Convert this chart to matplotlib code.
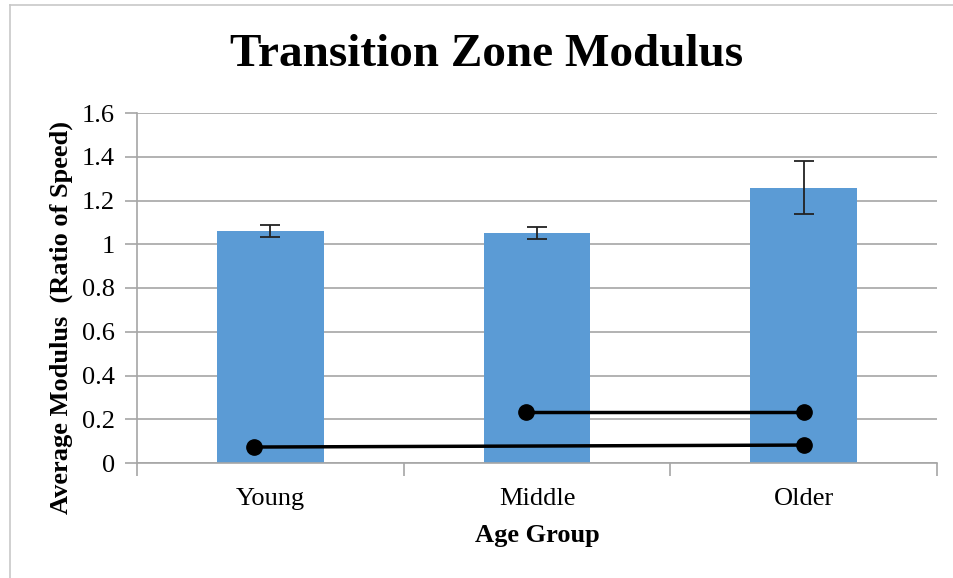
import matplotlib
matplotlib.use("Agg")
import matplotlib.pyplot as plt
from matplotlib.lines import Line2D

categories = ["Young", "Middle", "Older"]
means = [1.06, 1.052, 1.258]
errors = [0.026, 0.028, 0.122]
# significance brackets: (x_start, x_end, y_start, y_end)
sig_x1 = [-0.06, 0.96]
sig_x2 = [2.0, 2.0]
sig_y1 = [0.073, 0.232]
sig_y2 = [0.082, 0.232]
yticks = [0, 0.2, 0.4, 0.6, 0.8, 1, 1.2, 1.4, 1.6]
ytick_labels = ["0", "0.2", "0.4", "0.6", "0.8", "1", "1.2", "1.4", "1.6"]

plt.rcParams['font.family'] = ['Liberation Serif', 'DejaVu Serif']

fig = plt.figure(figsize=(9.54, 5.78), dpi=100)
W, H = 954, 578
ax = fig.add_axes([137 / W, 1 - 463 / H, 800 / W, 350 / H])

xs = list(range(len(categories)))
ax.bar(xs, means, width=0.4, color="#5B9BD5", zorder=2)
ax.errorbar(xs, means, yerr=errors, fmt="none", ecolor="#222222",
            elinewidth=1.3, capsize=7, capthick=1.3, zorder=3)

for x1, x2, y1, y2 in zip(sig_x1, sig_x2, sig_y1, sig_y2):
    ax.plot([x1, x2], [y1, y2], color="black", lw=2.5, zorder=4,
            marker="o", markersize=11, solid_capstyle="butt")

ax.set_xlim(-0.5, 2.5)
ax.set_ylim(0, 1.6)
ax.set_yticks(yticks)
ax.set_yticklabels(ytick_labels, fontsize=19)
ax.set_xticks(xs)
ax.set_xticklabels(categories, fontsize=19)
ax.set_xticks([-0.5, 0.5, 1.5, 2.5], minor=True)
ax.tick_params(axis="x", which="major", length=0, pad=18)
ax.tick_params(axis="x", which="minor", length=9, color="#a6a6a6", width=1.2)
ax.tick_params(axis="y", length=9, color="#a6a6a6", width=1.2, pad=7)

ax.grid(axis="y", color="#a6a6a6", lw=1.2, zorder=0)
ax.set_axisbelow(True)
for s in ["top", "right"]:
    ax.spines[s].set_visible(False)
for s in ["left", "bottom"]:
    ax.spines[s].set_color("#a6a6a6")
    ax.spines[s].set_linewidth(1.2)

ax.set_xlabel("Age Group", fontsize=19, fontweight="bold", labelpad=10)
ax.set_ylabel("Average Modulus  (Ratio of Speed)", fontsize=19,
              fontweight="bold", va="center")
ax.yaxis.set_label_coords((61 - 137) / 800, (463 - 318) / 350)
fig.text(487 / W, 1 - 55 / H, "Transition Zone Modulus", fontsize=34,
         fontweight="bold", ha="center", va="center")

# outer border (left and top)
fig.add_artist(Line2D([10 / W, 10 / W], [0, 1 - 5 / H], color="#c8c8c8", lw=1.2))
fig.add_artist(Line2D([10 / W, 1], [1 - 5 / H, 1 - 5 / H], color="#c8c8c8", lw=1.2))

fig.savefig("out.png", dpi=100)
